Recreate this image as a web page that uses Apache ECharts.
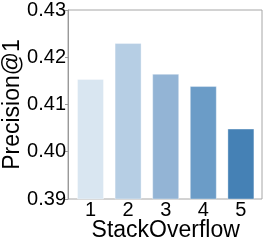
<!DOCTYPE html>
<html><head><meta charset="utf-8">
<script src="https://cdn.jsdelivr.net/npm/echarts@6/dist/echarts.min.js"></script>
<style>html,body{margin:0;padding:0;background:#fff}#c{width:266px;height:246px}</style>
</head><body><div id="c"></div>
<script>
const categories = ['1', '2', '3', '4', '5'];
const values = [0.4154, 0.4230, 0.4165, 0.4139, 0.4049];
const colors = ['#d9e6f1', '#b6cee4', '#93b4d5', '#6b9cc7', '#4581b5'];
const yTicks = [0.39, 0.40, 0.41, 0.42, 0.43];

const chart = echarts.init(document.getElementById('c'));
const font = 'Liberation Sans, Arial, sans-serif';
chart.setOption({
  animation: false,
  grid: [
    {left: 68, top: 10, right: 4, bottom: 47, show: true, borderColor: '#a6a6a6', borderWidth: 1, outerBoundsMode: 'none', containLabel: false},
    {left: 71.7, top: 10, right: 6.3, bottom: 47, outerBoundsMode: 'none', containLabel: false}
  ],
  xAxis: [
    {gridIndex: 0, type: 'value', show: false, min: 0, max: 1},
    {
      gridIndex: 1, type: 'category', data: categories,
      name: 'StackOverflow', nameLocation: 'middle', nameGap: 20, nameMoveOverlap: false,
      nameTextStyle: {fontFamily: font, fontSize: 23, color: '#000'},
      axisLine: {show: false},
      axisTick: {show: false},
      splitLine: {show: false},
      axisLabel: {fontFamily: font, fontSize: 20, color: '#000', margin: 1}
    }
  ],
  yAxis: [
    {gridIndex: 0, type: 'value', show: false, min: 0, max: 1},
    {
      gridIndex: 1, type: 'value', min: yTicks[0], max: yTicks[yTicks.length-1], interval: 0.01,
      offset: 3.7,
      name: 'Precision@1', nameLocation: 'middle', nameGap: 44, nameMoveOverlap: false,
      nameTextStyle: {fontFamily: font, fontSize: 23, color: '#000'},
      axisLine: {show: true, lineStyle: {color: '#999'}},
      axisTick: {show: true, length: 3, lineStyle: {color: '#999'}},
      splitLine: {show: false},
      axisLabel: {fontFamily: font, fontSize: 20, color: '#000', margin: 2,
        formatter: v => v.toFixed(2)}
    }
  ],
  series: [{
    type: 'bar', xAxisIndex: 1, yAxisIndex: 1, barWidth: 27,
    data: values.map((v, i) => ({value: v, itemStyle: {color: colors[i], borderColor: 'rgba(255,255,255,0.35)', borderWidth: 1}}))
  }]
});
</script></body></html>
